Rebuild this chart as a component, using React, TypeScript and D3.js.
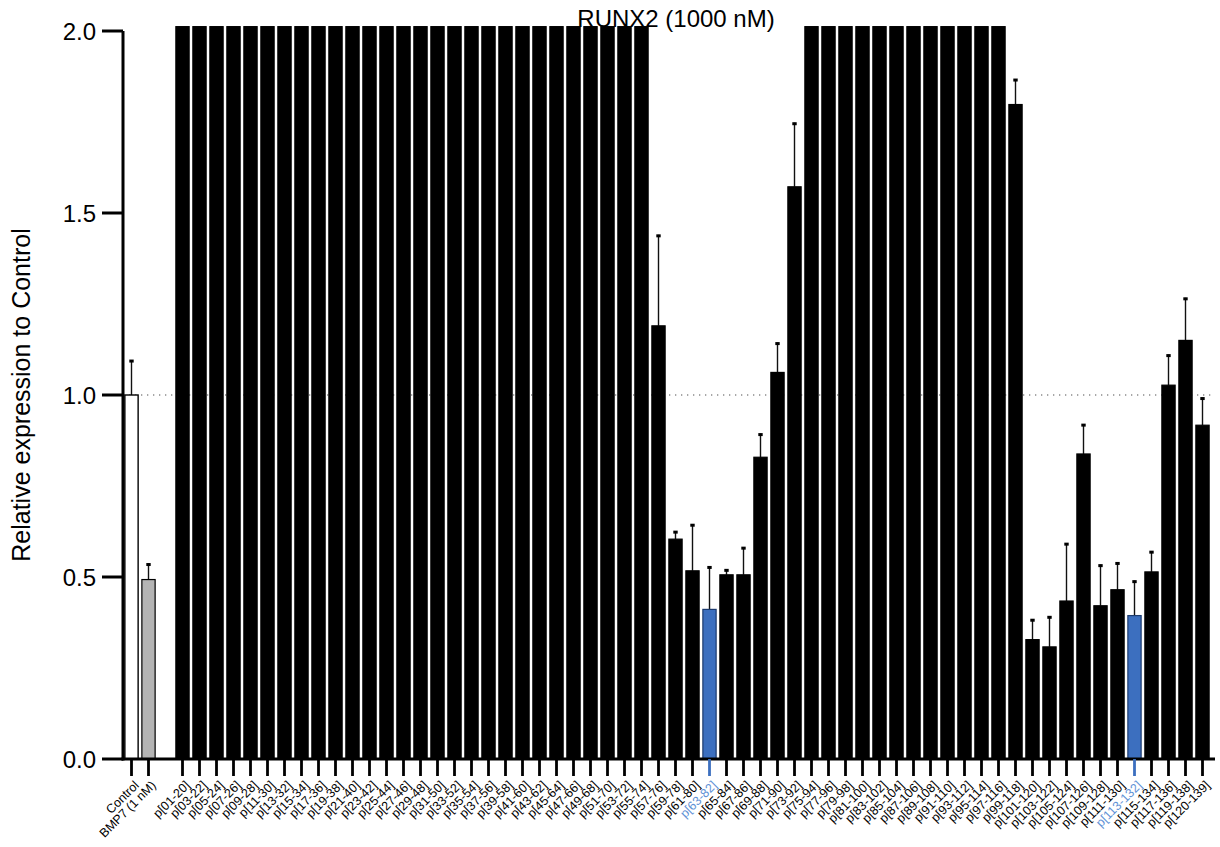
import React, { useRef, useEffect } from 'react';
import * as d3 from 'd3';

// controls shown left of the gap
const controlLabels = ['Control', 'BMP7 (1 nM)'];
const controlValues = [1.0, 0.493];
const controlErrors = [0.096, 0.044];

// peptide pools
const peptideLabels = [
  'p[01-20]', 'p[03-22]', 'p[05-24]', 'p[07-26]', 'p[09-28]', 'p[11-30]', 'p[13-32]', 'p[15-34]',
  'p[17-36]', 'p[19-38]', 'p[21-40]', 'p[23-42]', 'p[25-44]', 'p[27-46]', 'p[29-48]', 'p[31-50]',
  'p[33-52]', 'p[35-54]', 'p[37-56]', 'p[39-58]', 'p[41-60]', 'p[43-62]', 'p[45-64]', 'p[47-66]',
  'p[49-68]', 'p[51-70]', 'p[53-72]', 'p[55-74]', 'p[57-76]', 'p[59-78]', 'p[61-80]', 'p[63-82]',
  'p[65-84]', 'p[67-86]', 'p[69-88]', 'p[71-90]', 'p[73-92]', 'p[75-94]', 'p[77-96]', 'p[79-98]',
  'p[81-100]', 'p[83-102]', 'p[85-104]', 'p[87-106]', 'p[89-108]', 'p[91-110]', 'p[93-112]', 'p[95-114]',
  'p[97-116]', 'p[99-118]', 'p[101-120]', 'p[103-122]', 'p[105-124]', 'p[107-126]', 'p[109-128]', 'p[111-130]',
  'p[113-132]', 'p[115-134]', 'p[117-136]', 'p[119-138]', 'p[120-139]'
];

// values above 2.0 run off the top of the axis
const peptideValues = [
  2.5, 2.5, 2.5, 2.5, 2.5, 2.5, 2.5, 2.5,
  2.5, 2.5, 2.5, 2.5, 2.5, 2.5, 2.5, 2.5,
  2.5, 2.5, 2.5, 2.5, 2.5, 2.5, 2.5, 2.5,
  2.5, 2.5, 2.5, 2.5, 1.19, 0.604, 0.517, 0.411,
  0.506, 0.506, 0.829, 1.062, 1.572, 2.5, 2.5, 2.5,
  2.5, 2.5, 2.5, 2.5, 2.5, 2.5, 2.5, 2.5,
  2.5, 1.798, 0.328, 0.308, 0.434, 0.838, 0.421, 0.465,
  0.394, 0.514, 1.027, 1.15, 0.917
];

const peptideErrors = [
  0.2, 0.2, 0.2, 0.2, 0.2, 0.2, 0.2, 0.2,
  0.2, 0.2, 0.2, 0.2, 0.2, 0.2, 0.2, 0.2,
  0.2, 0.2, 0.2, 0.2, 0.2, 0.2, 0.2, 0.2,
  0.2, 0.2, 0.2, 0.2, 0.25, 0.022, 0.128, 0.118,
  0.015, 0.076, 0.065, 0.082, 0.176, 0.2, 0.2, 0.2,
  0.2, 0.2, 0.2, 0.2, 0.2, 0.2, 0.2, 0.2,
  0.2, 0.07, 0.056, 0.084, 0.159, 0.082, 0.113, 0.075,
  0.096, 0.057, 0.084, 0.117, 0.076
];

const highlighted = ['p[63-82]', 'p[113-132]'];
const yTicks = [0, 0.5, 1.0, 1.5, 2.0];

const App = () => {
  const svgRef = useRef<SVGSVGElement>(null);

  useEffect(() => {
    document.body.style.margin = '0';
    const width = 1220;
    const height = 847;
    const font = 'Arial, "Liberation Sans", sans-serif';

    const svg = d3.select(svgRef.current);
    svg.selectAll('*').remove();
    svg.attr('width', width).attr('height', height).style('display', 'block').style('font-family', font);

    const rows = [
      ...controlLabels.map((label, i) => ({ label, value: controlValues[i], err: controlErrors[i] })),
      ...peptideLabels.map((label, i) => ({ label, value: peptideValues[i], err: peptideErrors[i] }))
    ];

    const slots = [controlLabels[0], controlLabels[1], '__gap', ...peptideLabels];

    const x = d3.scaleBand()
      .domain(slots)
      .range([123, 1211])
      .paddingInner(0.22)
      .paddingOuter(0.11);

    const y = d3.scaleLinear().domain([0, 2]).range([759, 31]);
    const yClip = 2.012;

    const fillFor = d => {
      if (d.label === 'Control') return '#ffffff';
      if (d.label === 'BMP7 (1 nM)') return '#b4b4b4';
      if (highlighted.includes(d.label)) return '#3c6fbf';
      return '#000000';
    };

    // dotted line at 1.0 (behind the bars)
    svg.append('line')
      .attr('x1', 123).attr('x2', 1215)
      .attr('y1', y(1)).attr('y2', y(1))
      .attr('stroke', '#8a8a8a')
      .attr('stroke-width', 1.3)
      .attr('stroke-dasharray', '1.3,4.7');

    // error bars (upper only)
    const eb = svg.append('g');
    rows.filter(d => d.value + d.err < yClip).forEach(d => {
      const cx = x(d.label) + x.bandwidth() / 2;
      eb.append('line')
        .attr('x1', cx).attr('x2', cx)
        .attr('y1', y(d.value)).attr('y2', y(d.value + d.err))
        .attr('stroke', '#111').attr('stroke-width', 1.4);
      eb.append('line')
        .attr('x1', cx - 2.2).attr('x2', cx + 2.2)
        .attr('y1', y(d.value + d.err) + 1).attr('y2', y(d.value + d.err) + 1)
        .attr('stroke', '#000').attr('stroke-width', 3);
    });

    // bars
    svg.append('g')
      .selectAll('rect')
      .data(rows)
      .join('rect')
      .attr('x', d => x(d.label))
      .attr('width', x.bandwidth())
      .attr('y', d => y(Math.min(d.value, yClip)))
      .attr('height', d => y(0) - y(Math.min(d.value, yClip)))
      .attr('fill', fillFor)
      .attr('stroke', d => highlighted.includes(d.label) ? '#1d3b6e' : '#000')
      .attr('stroke-width', d => d.label === 'Control' ? 1.4 : 1.2);

    // y axis
    const yAxis = svg.append('g');
    yAxis.append('line')
      .attr('x1', 123).attr('x2', 123)
      .attr('y1', y(2)).attr('y2', y(0) + 1.5)
      .attr('stroke', '#000').attr('stroke-width', 3);
    yTicks.forEach(t => {
      yAxis.append('line')
        .attr('x1', 102).attr('x2', 123)
        .attr('y1', y(t)).attr('y2', y(t))
        .attr('stroke', '#000').attr('stroke-width', 3);
      yAxis.append('text')
        .attr('x', 96).attr('y', y(t))
        .attr('dy', '0.36em')
        .attr('text-anchor', 'end')
        .style('font-size', '24px')
        .text(d3.format('.1f')(t));
    });

    svg.append('text')
      .attr('transform', `translate(30,${(y(0) + y(2)) / 2}) rotate(-90)`)
      .attr('text-anchor', 'middle')
      .style('font-size', '25px')
      .text('Relative expression to Control');

    // x axis
    const xAxis = svg.append('g');
    xAxis.append('line')
      .attr('x1', 121.5).attr('x2', 1215)
      .attr('y1', y(0)).attr('y2', y(0))
      .attr('stroke', '#000').attr('stroke-width', 3);
    rows.forEach(d => {
      const cx = x(d.label) + x.bandwidth() / 2;
      const hl = highlighted.includes(d.label);
      xAxis.append('line')
        .attr('x1', cx).attr('x2', cx)
        .attr('y1', y(0)).attr('y2', y(0) + 17)
        .attr('stroke', hl ? '#3c6fbf' : '#000')
        .attr('stroke-width', 2.8);
      xAxis.append('text')
        .attr('transform', `translate(${cx + 5},${y(0) + 24}) rotate(-45)`)
        .attr('text-anchor', 'end')
        .attr('dy', '0.35em')
        .attr('fill', hl ? '#5f92d6' : '#000')
        .style('font-size', '12.5px')
        .text(d.label);
    });

    // title
    svg.append('text')
      .attr('x', 676).attr('y', 27)
      .attr('text-anchor', 'middle')
      .style('font-size', '24px')
      .text('RUNX2 (1000 nM)');
  }, []);

  return <svg ref={svgRef} />;
};

export default App;
